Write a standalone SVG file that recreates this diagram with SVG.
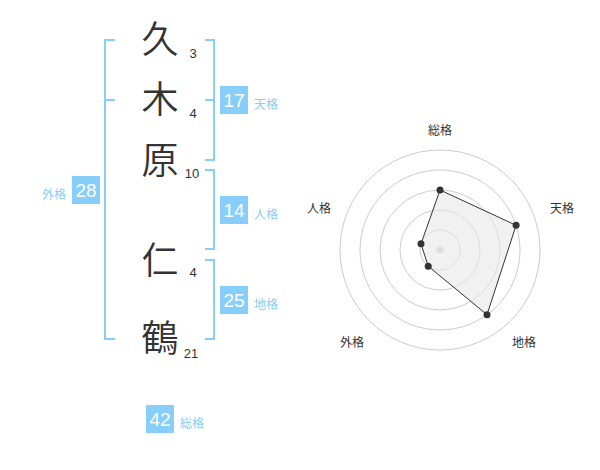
<svg xmlns="http://www.w3.org/2000/svg" width="600" height="470" viewBox="0 0 600 470">
<style>
.k{font-family:"Noto Sans CJK JP","Noto Sans CJK SC",sans-serif;font-size:37px;font-weight:350;fill:#333;text-anchor:middle}
.n{font-family:"Liberation Sans","Noto Sans CJK JP",sans-serif;font-size:13px;fill:#333;text-anchor:middle}
.br{fill:none;stroke:#87cefa;stroke-width:2}
.bx{fill:#87cefa}
.bt{font-family:"Liberation Sans",sans-serif;font-size:19px;fill:#fff;text-anchor:middle}
.lb{font-family:"Noto Sans CJK JP","Noto Sans CJK SC",sans-serif;font-size:12px;fill:#87cefa}
.rl{font-family:"Noto Sans CJK JP","Noto Sans CJK SC",sans-serif;font-size:12px;fill:#333;text-anchor:middle}
.ring{fill:none;stroke:#ccc;stroke-width:1}
.pt{fill:#333}
</style>
<g id="chars">
<text class="k" x="160" y="53">久</text>
<text class="k" x="160" y="113">木</text>
<text class="k" x="160" y="174">原</text>
<text class="k" x="160" y="274">仁</text>
<text class="k" x="160" y="352">鶴</text>
</g>
<g id="strokes">
<text class="n" x="193" y="58">3</text>
<text class="n" x="193" y="118">4</text>
<text class="n" x="192" y="178">10</text>
<text class="n" x="193" y="277">4</text>
<text class="n" x="191" y="358">21</text>
</g>
<g id="connectors">
<path class="br" d="M115,40 H105 V339 H115 M105,100 H115"/>
<path class="br" d="M205,40 H214 V160 H205 M205,100 H214"/>
<path class="br" d="M205,170 H214 V249 H205"/>
<path class="br" d="M205,260 H214 V339 H205"/>
</g>
<g id="tenkaku">
<rect class="bx" x="220" y="86" width="28" height="28"/>
<text class="bt" x="234" y="107">17</text>
<text class="lb" x="254" y="109">天格</text>
</g>
<g id="jinkaku">
<rect class="bx" x="220" y="196" width="28" height="28"/>
<text class="bt" x="234" y="217">14</text>
<text class="lb" x="254" y="219">人格</text>
</g>
<g id="chikaku">
<rect class="bx" x="220" y="286" width="28" height="28"/>
<text class="bt" x="234" y="307">25</text>
<text class="lb" x="254" y="309">地格</text>
</g>
<g id="gaikaku">
<rect class="bx" x="72" y="176" width="28" height="28"/>
<text class="bt" x="86" y="197">28</text>
<text class="lb" x="66" y="199" text-anchor="end">外格</text>
</g>
<g id="soukaku">
<rect class="bx" x="146" y="405" width="28" height="28"/>
<text class="bt" x="160" y="426">42</text>
<text class="lb" x="180" y="428">総格</text>
</g>
<g id="radar">
<circle class="ring" cx="440" cy="250" r="100"/>
<circle class="ring" cx="440" cy="250" r="80"/>
<circle class="ring" cx="440" cy="250" r="60"/>
<circle class="ring" cx="440" cy="250" r="40"/>
<circle class="ring" cx="440" cy="250" r="20"/>
<circle cx="440" cy="250" r="3.5" fill="#ccc"/>
<polygon points="440,190 516.1,225.3 487,314.7 428.2,266.2 421,243.8" fill="#e8e8e8" fill-opacity="0.6" stroke="#333" stroke-width="1"/>
<circle class="pt" cx="440" cy="190" r="3.5"/>
<circle class="pt" cx="516.1" cy="225.3" r="3.5"/>
<circle class="pt" cx="487" cy="314.7" r="3.5"/>
<circle class="pt" cx="428.2" cy="266.2" r="3.5"/>
<circle class="pt" cx="421" cy="243.8" r="3.5"/>
<text class="rl" x="440" y="135">総格</text>
<text class="rl" x="562" y="213">天格</text>
<text class="rl" x="524" y="347">地格</text>
<text class="rl" x="352" y="347">外格</text>
<text class="rl" x="319" y="213">人格</text>
</g>
</svg>
